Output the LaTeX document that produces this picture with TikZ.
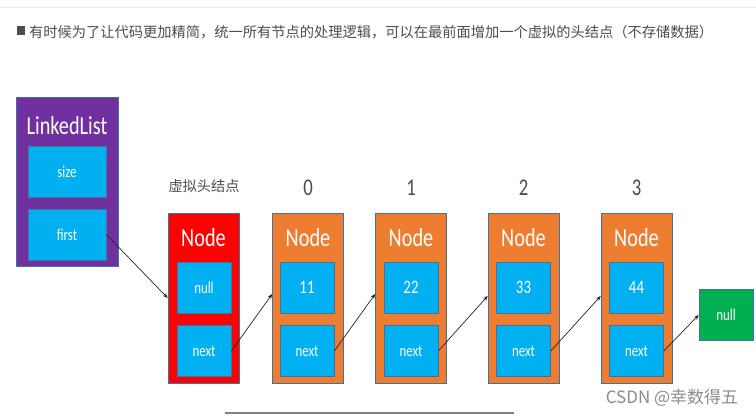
\documentclass[tikz,border=0pt]{standalone}
\usepackage{fontspec}
\usepackage{graphicx}
\usetikzlibrary{arrows.meta}
\newfontfamily\cjk{Noto Sans CJK SC}
\newfontfamily\calfont{Carlito}
\definecolor{lpurple}{HTML}{7030A0}
\definecolor{lblue}{HTML}{00B0F0}
\definecolor{lorange}{HTML}{ED7D31}
\definecolor{lred}{HTML}{FF0000}
\definecolor{lgreen}{HTML}{00B050}
\definecolor{lborder}{HTML}{41719C}
\definecolor{ltitle}{HTML}{4D4D4D}
\newcommand{\sq}[1]{\scalebox{0.78}[1]{#1}}
\tikzset{
  outerbox/.style={draw=lborder, line width=0.6pt, minimum width=71pt, minimum height=170pt, inner sep=0pt},
  innerbox/.style={draw=lborder, line width=0.6pt, fill=lblue, minimum width=54pt, minimum height=51pt, inner sep=0pt, text=white, font=\calfont\fontsize{16.5}{16.5}\selectfont},
  numtext/.style={font=\calfont\fontsize{19}{19}\selectfont},
  headtext/.style={text=white, font=\calfont\fontsize{26}{26}\selectfont, anchor=base, inner sep=0pt},
  idxtext/.style={text=ltitle, font=\calfont\fontsize{24}{24}\selectfont, anchor=base, inner sep=0pt},
  link/.style={draw=black!85, line width=0.7pt, -{Stealth[length=5pt,width=4pt]}}
}
\begin{document}
\begin{tikzpicture}[x=1pt,y=-1pt]
\useasboundingbox (0,0) rectangle (756,416);
\fill[white] (0,0) rectangle (756,416);
% faint top line
\draw[black!8, line width=1pt] (0,7) -- (756,7);
% title
\fill[ltitle] (17,26) rectangle (25,35);
\node[anchor=west, inner sep=0pt, text=ltitle, font=\cjk\fontsize{14.25}{14.25}\selectfont] (title) at (29,32.5) {有时候为了让代码更加精简，统一所有节点的处理逻辑，可以在最前面增加一个虚拟的头结点（不存储数据）};
% LinkedList
\node[draw=lborder, line width=0.6pt, fill=lpurple, minimum width=102pt, minimum height=169pt, inner sep=0pt] (ll) at (67,181.5) {};
\node[headtext] (lltext) at (67,134) {\sq{LinkedList}};
\node[innerbox, minimum width=78pt] (size) at (67,171.5) {\sq{size}};
\node[innerbox, minimum width=78pt] (first) at (67,234.5) {\sq{first}};
% labels
\node[text=ltitle, font=\cjk\fontsize{14.2}{14.2}\selectfont, inner sep=0pt] (vlabel) at (204,186.5) {虚拟头结点};
\node[idxtext] (i0) at (308,195) {\sq{0}};
\node[idxtext] (i1) at (411,195) {\sq{1}};
\node[idxtext] (i2) at (523.5,195) {\sq{2}};
\node[idxtext] (i3) at (636.5,195) {\sq{3}};
% nodes
\node[outerbox, fill=lred] (n0) at (203.5,298) {};
\node[outerbox, fill=lorange] (n1) at (308,298) {};
\node[outerbox, fill=lorange] (n2) at (411,298) {};
\node[outerbox, fill=lorange] (n3) at (523.5,298) {};
\node[outerbox, fill=lorange] (n4) at (636.5,298) {};
\node[headtext] (h0) at (203.5,246) {\sq{Node}};
\node[headtext] (h1) at (308,246) {\sq{Node}};
\node[headtext] (h2) at (411,246) {\sq{Node}};
\node[headtext] (h3) at (523.5,246) {\sq{Node}};
\node[headtext] (h4) at (636.5,246) {\sq{Node}};
\node[innerbox] (d0) at (204,287.5) {\sq{null}};
\node[innerbox, numtext] (d1) at (307,287.5) {\sq{11}};
\node[innerbox, numtext] (d2) at (411,287.5) {\sq{22}};
\node[innerbox, numtext] (d3) at (523.5,287.5) {\sq{33}};
\node[innerbox, numtext] (d4) at (636.5,287.5) {\sq{44}};
\node[innerbox] (x0) at (204,351) {\sq{next}};
\node[innerbox] (x1) at (307,351) {\sq{next}};
\node[innerbox] (x2) at (411,351) {\sq{next}};
\node[innerbox] (x3) at (523.5,351) {\sq{next}};
\node[innerbox] (x4) at (636.5,351) {\sq{next}};
\node[innerbox, fill=lgreen] (nul) at (726,315) {\sq{null}};
% links
\draw[link] (first.east) -- (n0.west);
\draw[link] (x0.east) -- ([yshift=4pt]n1.west);
\draw[link] (x1.east) -- ([yshift=4pt]n2.west);
\draw[link] (x2.east) -- ([yshift=2pt]n3.west);
\draw[link] (x3.east) -- ([yshift=2pt]n4.west);
\draw[link] (x4.east) -- (nul.west);
% footer
\node[text=black!45, font=\cjk\fontsize{17}{17}\selectfont, inner sep=0pt] (csdn) at (672,398) {CSDN @幸数得五};
\draw[black!50, line width=1.2pt] (225,413) -- (514,413);
\end{tikzpicture}
\end{document}
